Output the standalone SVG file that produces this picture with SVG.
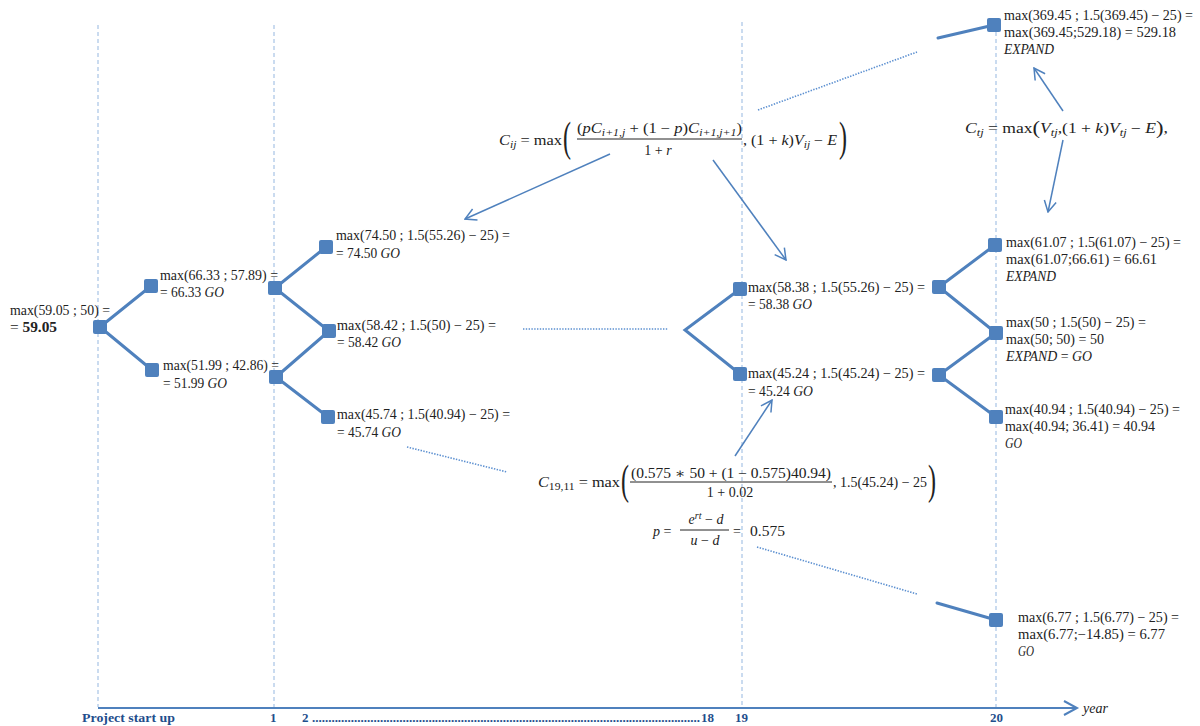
<svg xmlns="http://www.w3.org/2000/svg" width="1200" height="726" viewBox="0 0 1200 726">
<defs>
<style>
text{font-family:"Liberation Serif","DejaVu Serif",serif;font-size:14px;fill:#222;}
.i{font-style:italic;}
.b{font-weight:bold;}
.s{font-size:10px;}
.big{font-size:16px;}
.mid{font-size:18px;}
.nd{fill:#4F81BD;}
.edge{stroke:#4F81BD;stroke-width:3;fill:none;stroke-linecap:round;}
.arr{stroke:#4F81BD;stroke-width:1.5;fill:none;marker-end:url(#ah);}
.dot{stroke:#5B8FD0;stroke-width:1.6;stroke-dasharray:1.4 1.4;fill:none;}
.vg{stroke:#95B7E0;stroke-width:1;stroke-dasharray:4 3;fill:none;}
.bar{stroke:#222;stroke-width:1;}
.ax{font-weight:bold;font-size:13px;fill:#1F4E8C;}
</style>
<marker id="ah" viewBox="0 0 14 14" refX="13" refY="7" markerWidth="14" markerHeight="14" markerUnits="userSpaceOnUse" orient="auto">
<path d="M2,1 L13,7 L2,13" fill="none" stroke="#4F81BD" stroke-width="1.5"/>
</marker>
</defs>
<rect width="1200" height="726" fill="#fff"/>

<g id="grid">
<line class="vg" x1="98" y1="25" x2="98" y2="707"/>
<line class="vg" x1="274" y1="25" x2="274" y2="707"/>
<line class="vg" x1="742" y1="22" x2="742" y2="707"/>
<line class="vg" x1="996" y1="25" x2="996" y2="707"/>
</g>

<g id="axis">
<line x1="98" y1="708" x2="1076" y2="708" stroke="#4F81BD" stroke-width="2"/>
<path d="M1064,701 L1077,708 L1064,715" fill="none" stroke="#4F81BD" stroke-width="2"/>
<text class="i" x="1083" y="713">year</text>
<text class="ax" x="82" y="722" textLength="93" lengthAdjust="spacingAndGlyphs">Project start up</text>
<text class="ax" x="270" y="722">1</text>
<text class="ax" x="302" y="722">2</text>
<text class="ax" x="312" y="722" textLength="388" lengthAdjust="spacingAndGlyphs">........................................................................................................................</text>
<text class="ax" x="701" y="722">18</text>
<text class="ax" x="735" y="722">19</text>
<text class="ax" x="990" y="722">20</text>
</g>

<g id="connectors">
<line class="edge" x1="100" y1="327" x2="151" y2="286"/>
<line class="edge" x1="100" y1="327" x2="152" y2="370"/>
<line class="edge" x1="275" y1="288" x2="326" y2="247"/>
<line class="edge" x1="275" y1="288" x2="329" y2="331"/>
<line class="edge" x1="276" y1="377" x2="329" y2="331"/>
<line class="edge" x1="276" y1="377" x2="328" y2="417"/>
<polyline class="edge" points="740,289 685,330 740,374"/>
<line class="edge" x1="939" y1="287" x2="995" y2="245"/>
<line class="edge" x1="939" y1="287" x2="996" y2="333"/>
<line class="edge" x1="939" y1="375" x2="996" y2="333"/>
<line class="edge" x1="939" y1="375" x2="996" y2="417"/>
<line class="edge" x1="938" y1="38" x2="994" y2="25"/>
<line class="edge" x1="937" y1="603" x2="996" y2="620"/>
<line class="dot" x1="758" y1="110" x2="917" y2="52"/>
<line class="dot" x1="523" y1="329" x2="668" y2="329"/>
<line class="dot" x1="407" y1="447" x2="507" y2="472"/>
<line class="dot" x1="757" y1="547" x2="917" y2="594"/>
<line class="arr" x1="610" y1="154" x2="465" y2="219"/>
<line class="arr" x1="713" y1="160" x2="786" y2="260"/>
<line class="arr" x1="1063" y1="111" x2="1034" y2="68"/>
<line class="arr" x1="1063" y1="140" x2="1048" y2="212"/>
<line class="arr" x1="735" y1="456" x2="772" y2="400"/>
</g>

<g id="n0">
<rect class="nd" x="93" y="320" width="14" height="14" rx="2"/>
<text x="10" y="314.5" textLength="100" lengthAdjust="spacingAndGlyphs">max(59.05 ; 50) =</text>
<text x="10" y="332" textLength="47" lengthAdjust="spacingAndGlyphs">= <tspan class="b">59.05</tspan></text>
</g>
<g id="n1u">
<rect class="nd" x="144" y="279" width="14" height="14" rx="2"/>
<text x="160" y="279.5" textLength="118" lengthAdjust="spacingAndGlyphs">max(66.33 ; 57.89) =</text>
<text x="160" y="296.5" textLength="64" lengthAdjust="spacingAndGlyphs">= 66.33 <tspan class="i">GO</tspan></text>
</g>
<g id="n1d">
<rect class="nd" x="145" y="363" width="14" height="14" rx="2"/>
<text x="163" y="369.5" textLength="116" lengthAdjust="spacingAndGlyphs">max(51.99 ; 42.86) =</text>
<text x="163" y="387.5" textLength="64" lengthAdjust="spacingAndGlyphs">= 51.99 <tspan class="i">GO</tspan></text>
</g>
<g id="y1u">
<rect class="nd" x="268" y="281" width="14" height="14" rx="2"/>
</g>
<g id="y1d">
<rect class="nd" x="269" y="370" width="14" height="14" rx="2"/>
</g>
<g id="y2u">
<rect class="nd" x="319" y="240" width="14" height="14" rx="2"/>
<text x="336" y="239.5" textLength="174" lengthAdjust="spacingAndGlyphs">max(74.50 ; 1.5(55.26) − 25) =</text>
<text x="336" y="257.5" textLength="64" lengthAdjust="spacingAndGlyphs">= 74.50 <tspan class="i">GO</tspan></text>
</g>
<g id="y2m">
<rect class="nd" x="322" y="324" width="14" height="14" rx="2"/>
<text x="337" y="329.5" textLength="159" lengthAdjust="spacingAndGlyphs">max(58.42 ; 1.5(50) − 25) =</text>
<text x="337" y="346.5" textLength="64" lengthAdjust="spacingAndGlyphs">= 58.42 <tspan class="i">GO</tspan></text>
</g>
<g id="y2d">
<rect class="nd" x="321" y="410" width="14" height="14" rx="2"/>
<text x="337" y="418.5" textLength="173" lengthAdjust="spacingAndGlyphs">max(45.74 ; 1.5(40.94) − 25) =</text>
<text x="337" y="436.5" textLength="64" lengthAdjust="spacingAndGlyphs">= 45.74 <tspan class="i">GO</tspan></text>
</g>
<g id="y19u">
<rect class="nd" x="733" y="282" width="14" height="14" rx="2"/>
<text x="748" y="291.5" textLength="177" lengthAdjust="spacingAndGlyphs">max(58.38 ; 1.5(55.26) − 25) =</text>
<text x="748" y="308.5" textLength="64" lengthAdjust="spacingAndGlyphs">= 58.38 <tspan class="i">GO</tspan></text>
</g>
<g id="y19d">
<rect class="nd" x="733" y="367" width="14" height="14" rx="2"/>
<text x="748" y="377.5" textLength="177" lengthAdjust="spacingAndGlyphs">max(45.24 ; 1.5(45.24) − 25) =</text>
<text x="748" y="395.5" textLength="65" lengthAdjust="spacingAndGlyphs">= 45.24 <tspan class="i">GO</tspan></text>
</g>
<g id="y19b">
<rect class="nd" x="932" y="280" width="14" height="14" rx="2"/>
</g>
<g id="y19c">
<rect class="nd" x="932" y="368" width="14" height="14" rx="2"/>
</g>
<g id="y20a">
<rect class="nd" x="988" y="238" width="14" height="14" rx="2"/>
<text x="1006" y="246.5" textLength="175" lengthAdjust="spacingAndGlyphs">max(61.07 ; 1.5(61.07) − 25) =</text>
<text x="1006" y="263.5" textLength="151" lengthAdjust="spacingAndGlyphs">max(61.07;66.61) = 66.61</text>
<text class="i" x="1006" y="280.5" textLength="50" lengthAdjust="spacingAndGlyphs">EXPAND</text>
</g>
<g id="y20b">
<rect class="nd" x="989" y="326" width="14" height="14" rx="2"/>
<text x="1006" y="326.5" textLength="140" lengthAdjust="spacingAndGlyphs">max(50 ; 1.5(50) − 25) =</text>
<text x="1006" y="343.5" textLength="98" lengthAdjust="spacingAndGlyphs">max(50; 50) = 50</text>
<text x="1006" y="360.5" textLength="86" lengthAdjust="spacingAndGlyphs"><tspan class="i">EXPAND</tspan> = <tspan class="i">GO</tspan></text>
</g>
<g id="y20c">
<rect class="nd" x="989" y="410" width="14" height="14" rx="2"/>
<text x="1005" y="413.5" textLength="175" lengthAdjust="spacingAndGlyphs">max(40.94 ; 1.5(40.94) − 25) =</text>
<text x="1005" y="430.5" textLength="150" lengthAdjust="spacingAndGlyphs">max(40.94; 36.41) = 40.94</text>
<text class="i" x="1005" y="447.5" textLength="17" lengthAdjust="spacingAndGlyphs">GO</text>
</g>
<g id="y20top">
<rect class="nd" x="987" y="18" width="14" height="14" rx="2"/>
<text x="1004" y="19.5" textLength="189" lengthAdjust="spacingAndGlyphs">max(369.45 ; 1.5(369.45) − 25) =</text>
<text x="1004" y="36.5" textLength="172" lengthAdjust="spacingAndGlyphs">max(369.45;529.18) = 529.18</text>
<text class="i" x="1004" y="53.5" textLength="50" lengthAdjust="spacingAndGlyphs">EXPAND</text>
</g>
<g id="y20bot">
<rect class="nd" x="989" y="613" width="14" height="14" rx="2"/>
<text x="1018" y="621.5" textLength="161" lengthAdjust="spacingAndGlyphs">max(6.77 ; 1.5(6.77) − 25) =</text>
<text x="1018" y="638.5" textLength="147" lengthAdjust="spacingAndGlyphs">max(6.77;−14.85) = 6.77</text>
<text class="i" x="1018" y="655.5" textLength="16" lengthAdjust="spacingAndGlyphs">GO</text>
</g>

<g id="formula-cij">
<text x="499" y="145" textLength="63" lengthAdjust="spacingAndGlyphs"><tspan class="i">C</tspan><tspan class="i s" dy="3">ij</tspan><tspan dy="-3"> = max</tspan></text>
<text class="big" transform="translate(563,150.7) scale(1.5,2.65)">(</text>
<text x="577" y="133" textLength="165" lengthAdjust="spacingAndGlyphs">(<tspan class="i">pC</tspan><tspan class="i s" dy="3">i+1,j</tspan><tspan dy="-3"> + (1 − </tspan><tspan class="i">p</tspan>)<tspan class="i">C</tspan><tspan class="i s" dy="3">i+1,j+1</tspan><tspan dy="-3">)</tspan></text>
<line class="bar" x1="577" y1="139" x2="742" y2="139"/>
<text x="658" y="155" text-anchor="middle">1 + <tspan class="i">r</tspan></text>
<text x="743" y="145" textLength="94" lengthAdjust="spacingAndGlyphs">, (1 + <tspan class="i">k</tspan>)<tspan class="i">V</tspan><tspan class="i s" dy="3">ij</tspan><tspan dy="-3"> − </tspan><tspan class="i">E</tspan></text>
<text class="big" transform="translate(839,150.7) scale(1.5,2.65)">)</text>
</g>

<g id="formula-ctj">
<text x="965" y="133" textLength="203" lengthAdjust="spacingAndGlyphs"><tspan class="i">C</tspan><tspan class="i s" dy="3">tj</tspan><tspan dy="-3"> = max</tspan><tspan class="mid" dy="1">(</tspan><tspan class="i" dy="-1">V</tspan><tspan class="i s" dy="3">tj</tspan><tspan dy="-3">,(1 + </tspan><tspan class="i">k</tspan>)<tspan class="i">V</tspan><tspan class="i s" dy="3">tj</tspan><tspan dy="-3"> − </tspan><tspan class="i">E</tspan><tspan class="mid" dy="1">)</tspan><tspan dy="-1">,</tspan></text>
</g>

<g id="formula-c1911">
<text x="538" y="487" textLength="82" lengthAdjust="spacingAndGlyphs"><tspan class="i">C</tspan><tspan class="s" dy="3">19,11</tspan><tspan dy="-3"> = max</tspan></text>
<text class="big" transform="translate(621,493.7) scale(1.5,2.65)">(</text>
<text x="631" y="478" textLength="200" lengthAdjust="spacingAndGlyphs">(0.575 ∗ 50 + (1 − 0.575)40.94)</text>
<line class="bar" x1="630" y1="482" x2="832" y2="482"/>
<text x="730" y="497" text-anchor="middle">1 + 0.02</text>
<text x="833" y="487" textLength="94" lengthAdjust="spacingAndGlyphs">, 1.5(45.24) − 25</text>
<text class="big" transform="translate(928,493.7) scale(1.5,2.65)">)</text>
</g>

<g id="formula-p">
<text x="653" y="536"><tspan class="i">p</tspan> =</text>
<text x="706" y="524" text-anchor="middle"><tspan class="i">e</tspan><tspan class="i s" dy="-5">rt</tspan><tspan dy="5"> − </tspan><tspan class="i">d</tspan></text>
<line class="bar" x1="680" y1="530" x2="729" y2="530"/>
<text x="705" y="545" text-anchor="middle"><tspan class="i">u</tspan> − <tspan class="i">d</tspan></text>
<text x="733" y="536">=</text>
<text x="750" y="536" textLength="35" lengthAdjust="spacingAndGlyphs">0.575</text>
</g>
</svg>
